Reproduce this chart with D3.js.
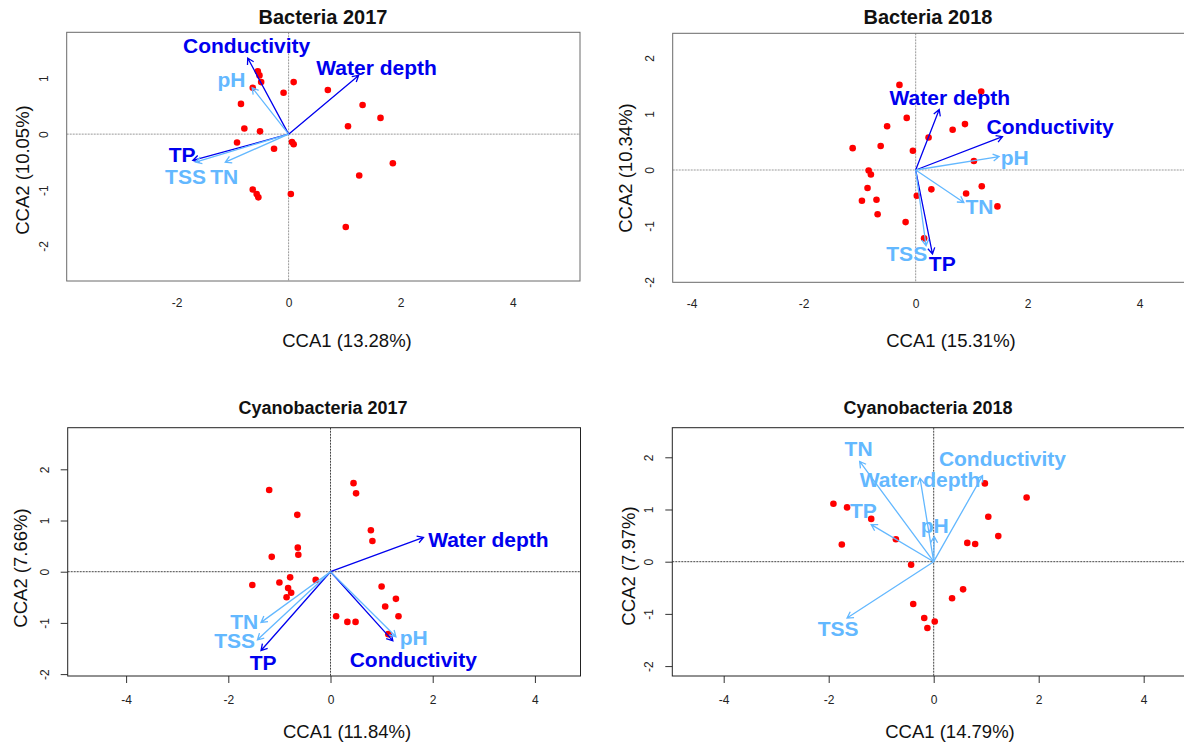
<!DOCTYPE html>
<html>
<head>
<meta charset="utf-8">
<script src="https://cdn.jsdelivr.net/npm/d3@7"></script>
<style>
  body { margin: 0; background: #fff; }
  svg { display: block; }
  text { font-family: "Liberation Sans", Arial, Helvetica, sans-serif; }
</style>
</head>
<body>
<svg id="chart" width="1184" height="746"></svg>
<script>
// Environmental variables fitted onto each ordination
const variables = ["Conductivity", "Water depth", "pH", "TP", "TSS", "TN"];
const axisTicks = [-4, -2, 0, 2, 4];
const axisTicksY = [-2, -1, 0, 1, 2];

// ---- Bacteria 2017 ----
const bac17Explained = [13.28, 10.05];
const bac17Sites = [
  [-0.55, 1.125], [-0.52, 1.05], [-0.49, 0.93], [0.09, 0.93], [-0.64, 0.83],
  [-0.09, 0.74], [0.70, 0.79], [-0.85, 0.54], [1.32, 0.52], [1.64, 0.29],
  [1.06, 0.14], [-0.79, 0.10], [-0.51, 0.05], [-0.92, -0.15], [0.06, -0.14],
  [0.09, -0.18], [-0.26, -0.26], [1.86, -0.52], [1.26, -0.74], [-0.64, -0.99],
  [-0.57, -1.07], [-0.54, -1.13], [0.04, -1.07], [1.02, -1.66]
];
const bac17Tips = [[-0.73, 1.36], [1.25, 1.05], [-0.65, 0.83], [-1.71, -0.47], [-1.66, -0.50], [-1.13, -0.50]];
const bac17LabelAt = [[-0.75, 1.59], [1.57, 1.19], [-1.02, 0.97], [-1.90, -0.37], [-1.84, -0.76], [-1.15, -0.75]];
const bac17Signif = [true, true, false, true, false, false];

// ---- Bacteria 2018 ----
const bac18Explained = [15.31, 10.34];
const bac18Sites = [
  [-0.29, 1.52], [1.17, 1.40], [-0.16, 0.93], [-0.51, 0.78], [0.88, 0.82],
  [0.66, 0.72], [0.23, 0.58], [-1.125, 0.39], [-0.625, 0.43], [-0.05, 0.345],
  [1.04, 0.16], [-0.84, -0.01], [-0.80, -0.08], [-0.86, -0.32], [0.28, -0.345],
  [1.18, -0.29], [0.90, -0.42], [0.02, -0.46], [-0.96, -0.55], [-0.70, -0.53],
  [1.46, -0.65], [-0.68, -0.79], [-0.18, -0.93], [0.15, -1.22]
];
const bac18Tips = [[1.55, 0.595], [0.42, 1.08], [1.49, 0.24], [0.30, -1.50], [0.185, -1.35], [0.86, -0.58]];
const bac18LabelAt = [[2.40, 0.775], [0.61, 1.30], [1.77, 0.23], [0.475, -1.675], [-0.16, -1.49], [1.14, -0.65]];
const bac18Signif = [true, true, false, true, false, false];

// ---- Cyanobacteria 2017 ----
const cya17Explained = [11.84, 7.66];
const cya17Sites = [
  [-1.20, 1.595], [0.45, 1.73], [0.50, 1.53], [-0.65, 1.11], [0.79, 0.81],
  [0.82, 0.60], [-0.64, 0.47], [-0.63, 0.33], [-1.15, 0.29], [-0.79, -0.11],
  [-0.29, -0.16], [-1.53, -0.26], [-1.00, -0.21], [-0.83, -0.32], [-0.77, -0.41],
  [-0.86, -0.50], [1.00, -0.29], [1.28, -0.53], [1.07, -0.68], [1.33, -0.87],
  [0.11, -0.87], [0.33, -0.98], [0.49, -0.98], [1.13, -1.22]
];
const cya17Tips = [[1.22, -1.35], [1.82, 0.67], [1.28, -1.27], [-1.36, -1.54], [-1.43, -1.33], [-1.36, -0.99]];
const cya17LabelAt = [[1.62, -1.72], [3.09, 0.62], [1.63, -1.28], [-1.32, -1.77], [-1.875, -1.34], [-1.69, -0.98]];
const cya17Signif = [true, true, false, true, false, false];

// ---- Cyanobacteria 2018 ----
const cya18Explained = [14.79, 7.97];
const cya18Sites = [
  [-1.91, 1.11], [-1.65, 1.04], [-1.19, 0.82], [-0.72, 0.43], [-1.75, 0.33],
  [-0.43, -0.06], [0.975, 1.50], [1.77, 1.23], [1.04, 0.86], [1.23, 0.49],
  [0.64, 0.36], [0.79, 0.34], [0.56, -0.53], [0.35, -0.70], [-0.39, -0.81],
  [-0.18, -1.08], [0.02, -1.145], [-0.12, -1.27]
];
const cya18Tips = [[0.93, 1.65], [-0.26, 1.60], [0.01, 0.48], [-1.19, 0.71], [-1.65, -1.08], [-1.41, 1.92]];
const cya18LabelAt = [[1.31, 1.98], [-0.26, 1.58], [0.02, 0.70], [-1.34, 0.99], [-1.82, -1.28], [-1.43, 2.17]];
const cya18Signif = [false, false, false, false, false, false];

// Panel frames and axis limits
const panels = [
  { title: "Bacteria 2017", explained: bac17Explained, sites: bac17Sites, tips: bac17Tips, labelAt: bac17LabelAt, signif: bac17Signif,
    box: [66.7, 32.3, 580, 281], xlim: [-3.96, 5.2], ylim: [-2.625, 1.82], titleSize: 20,
    titleX: 323, titleY: 17, xlabX: 347, xlabY: 340, ylabX: 22, ylabY: 170, ticks: false },
  { title: "Bacteria 2018", explained: bac18Explained, sites: bac18Sites, tips: bac18Tips, labelAt: bac18LabelAt, signif: bac18Signif,
    box: [672.7, 33.3, 1186, 282.3], xlim: [-4.339, 4.827], ylim: [-2.005, 2.441], titleSize: 20,
    titleX: 928, titleY: 17, xlabX: 951, xlabY: 340, ylabX: 625, ylabY: 168, ticks: false },
  { title: "Cyanobacteria 2017", explained: cya17Explained, sites: cya17Sites, tips: cya17Tips, labelAt: cya17LabelAt, signif: cya17Signif,
    box: [67.7, 427.7, 580.5, 676], xlim: [-5.143, 4.892], ylim: [-2.037, 2.8125], titleSize: 18,
    titleX: 323, titleY: 408, xlabX: 347, xlabY: 731, ylabX: 20, ylabY: 568, ticks: true },
  { title: "Cyanobacteria 2018", explained: cya18Explained, sites: cya18Sites, tips: cya18Tips, labelAt: cya18LabelAt, signif: cya18Signif,
    box: [672.3, 427.7, 1186, 676], xlim: [-4.979, 4.806], ylim: [-2.19, 2.567], titleSize: 18,
    titleX: 928, titleY: 408, xlabX: 950, xlabY: 731, ylabX: 628, ylabY: 566, ticks: true }
];

const darkBlue = "#0000ee";
const lightBlue = "#63b8ff";

const svg = d3.select("#chart");
svg.append("rect").attr("width", 1184).attr("height", 746).attr("fill", "#fff");

panels.forEach((p, pi) => {
  const [l, t, r, b] = p.box;
  const x = d3.scaleLinear().domain(p.xlim).range([l, r]);
  const y = d3.scaleLinear().domain(p.ylim).range([b, t]);
  const frameColor = p.ticks ? "#222" : "#6a6a6a";
  const zeroColor = p.ticks ? "#444" : "#999";

  const g = svg.append("g");
  const clipId = "clip" + pi;
  g.append("clipPath").attr("id", clipId)
    .append("rect").attr("x", l).attr("y", t).attr("width", r - l).attr("height", b - t);

  // title
  g.append("text").attr("x", p.titleX).attr("y", p.titleY)
    .attr("text-anchor", "middle").attr("dominant-baseline", "central")
    .attr("font-weight", "bold").attr("font-size", p.titleSize).attr("fill", "#111")
    .text(p.title);

  // axes
  const xt = axisTicks.filter(v => v >= p.xlim[0] && v <= p.xlim[1]);
  const yt = axisTicksY.filter(v => v >= p.ylim[0] && v <= p.ylim[1]);
  const xAxis = d3.axisBottom(x).tickValues(xt).tickFormat(d => String(d))
    .tickSize(p.ticks ? 7 : 0).tickSizeOuter(0).tickPadding(p.ticks ? 12 : 17);
  const gx = g.append("g").attr("transform", `translate(0,${b})`).call(xAxis);
  gx.select(".domain").remove();
  gx.selectAll(".tick line").attr("stroke", "#333");
  gx.selectAll(".tick text").attr("font-size", 12).attr("fill", "#222")
    .attr("font-family", "'Liberation Sans', Arial, sans-serif");

  const yAxis = d3.axisLeft(y).tickValues(yt).tickFormat(d => String(d))
    .tickSize(p.ticks ? 7 : 0).tickSizeOuter(0);
  const gy = g.append("g").attr("transform", `translate(${l},0)`).call(yAxis);
  gy.select(".domain").remove();
  gy.selectAll(".tick line").attr("stroke", "#333");
  gy.selectAll(".tick text")
    .attr("x", null).attr("dy", null)
    .attr("transform", "translate(-23,0) rotate(-90)")
    .attr("text-anchor", "middle").attr("dominant-baseline", "central")
    .attr("font-size", 12).attr("fill", "#222")
    .attr("font-family", "'Liberation Sans', Arial, sans-serif");

  // axis titles
  g.append("text").attr("x", p.xlabX).attr("y", p.xlabY)
    .attr("text-anchor", "middle").attr("dominant-baseline", "central")
    .attr("font-size", 18.5).attr("fill", "#111")
    .text(`CCA1 (${p.explained[0].toFixed(2)}%)`);
  g.append("text")
    .attr("transform", `translate(${p.ylabX},${p.ylabY}) rotate(-90)`)
    .attr("text-anchor", "middle").attr("dominant-baseline", "central")
    .attr("font-size", 18.5).attr("fill", "#111")
    .text(`CCA2 (${p.explained[1].toFixed(2)}%)`);

  const inner = g.append("g").attr("clip-path", `url(#${clipId})`);

  // zero reference lines
  inner.append("line").attr("x1", l).attr("x2", r).attr("y1", y(0)).attr("y2", y(0))
    .attr("stroke", zeroColor).attr("stroke-width", 1).attr("stroke-dasharray", "2,1");
  inner.append("line").attr("x1", x(0)).attr("x2", x(0)).attr("y1", t).attr("y2", b)
    .attr("stroke", zeroColor).attr("stroke-width", 1).attr("stroke-dasharray", "2,1");

  // site scores
  inner.selectAll("circle.site").data(p.sites).join("circle")
    .attr("class", "site")
    .attr("cx", d => x(d[0])).attr("cy", d => y(d[1])).attr("r", 3.3)
    .attr("fill", "#ff0000");

  // biplot arrows
  const arrows = variables.map((name, i) => ({
    name, tip: p.tips[i], lab: p.labelAt[i], color: p.signif[i] ? darkBlue : lightBlue
  }));
  const ox = x(0), oy = y(0);
  arrows.forEach(a => {
    const tx = x(a.tip[0]), ty = y(a.tip[1]);
    const ang = Math.atan2(ty - oy, tx - ox);
    const hl = 7, ha = Math.PI / 6;
    const path = d3.path();
    path.moveTo(ox, oy); path.lineTo(tx, ty);
    path.moveTo(tx - hl * Math.cos(ang - ha), ty - hl * Math.sin(ang - ha));
    path.lineTo(tx, ty);
    path.lineTo(tx - hl * Math.cos(ang + ha), ty - hl * Math.sin(ang + ha));
    inner.append("path").attr("d", path.toString())
      .attr("fill", "none").attr("stroke", a.color).attr("stroke-width", 1.3);
  });
  arrows.forEach(a => {
    inner.append("text").attr("x", x(a.lab[0])).attr("y", y(a.lab[1]))
      .attr("text-anchor", "middle").attr("dominant-baseline", "central")
      .attr("font-weight", "bold").attr("font-size", 21).attr("fill", a.color)
      .text(a.name);
  });

  // frame
  g.append("rect").attr("x", l).attr("y", t).attr("width", r - l).attr("height", b - t)
    .attr("fill", "none").attr("stroke", frameColor).attr("stroke-width", 1);
});
</script>
</body>
</html>
